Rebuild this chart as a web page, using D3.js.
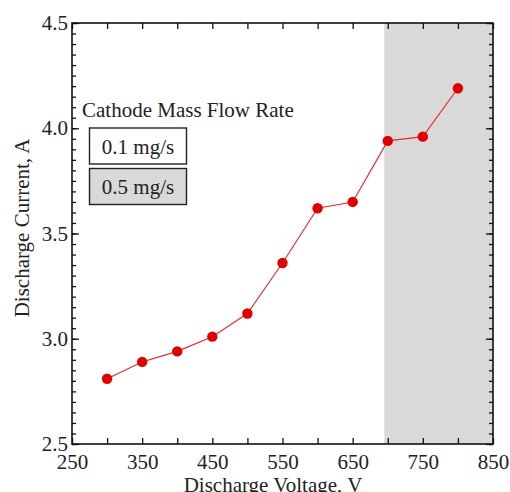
<!DOCTYPE html>
<html>
<head>
<meta charset="utf-8">
<script src="https://cdn.jsdelivr.net/npm/d3@7"></script>
<style>
  body { margin: 0; background: #fff; }
  svg text { font-family: "Liberation Serif", "DejaVu Serif", serif; fill: #222; }
</style>
</head>
<body>
<div class="chart"></div>
<script>
// discharge current vs voltage
const voltage = [300, 350, 400, 450, 500, 550, 600, 650, 700, 750, 800]
const current = [2.81, 2.89, 2.94, 3.01, 3.12, 3.36, 3.62, 3.65, 3.94, 3.96, 4.19]
const xLabelTicks = [250, 350, 450, 550, 650, 750, 850]
const yLabelTicks = [2.5, 3.0, 3.5, 4.0, 4.5]
const shadeRange = [695, 850]
const legendTitle = 'Cathode Mass Flow Rate'
const legendLabels = ['0.1 mg/s', '0.5 mg/s']

const W = 510, H = 492
const pLeft = 72, pRight = 493, pTop = 23, pBottom = 444

let svg = d3.select('.chart')
    .append('svg')
    .attr('width', W)
    .attr('height', H)

let x = d3.scaleLinear().domain([250, 850]).range([pLeft, pRight])
let y = d3.scaleLinear().domain([2.5, 4.5]).range([pBottom, pTop])

// shaded region (0.5 mg/s)
svg.append('rect')
    .attr('x', x(shadeRange[0]))
    .attr('y', pTop)
    .attr('width', x(shadeRange[1]) - x(shadeRange[0]))
    .attr('height', pBottom - pTop)
    .attr('fill', '#d9d9d9')

const fmtX = d => xLabelTicks.includes(d) ? d : ''
const allX = d3.range(250, 851, 50)
const minorY = d3.range(2.5, 4.501, 0.05)

function styleAxis(g) {
    g.select('.domain').remove()
    g.selectAll('line').attr('stroke', '#111').attr('stroke-width', 1.3)
    g.selectAll('text').attr('font-size', 21).attr('fill', '#222')
        .style('font-family', '"Liberation Serif", serif')
}

// bottom
svg.append('g').attr('transform', `translate(0,${pBottom})`)
    .call(d3.axisBottom(x).tickValues(allX).tickSize(-6).tickPadding(10).tickFormat(fmtX))
    .call(styleAxis)
// top
svg.append('g').attr('transform', `translate(0,${pTop})`)
    .call(d3.axisTop(x).tickValues(allX).tickSize(-6).tickFormat(''))
    .call(styleAxis)
// left minor + major
svg.append('g').attr('transform', `translate(${pLeft},0)`)
    .call(d3.axisLeft(y).tickValues(minorY).tickSize(-4).tickFormat(''))
    .call(styleAxis)
svg.append('g').attr('transform', `translate(${pLeft},0)`)
    .call(d3.axisLeft(y).tickValues(yLabelTicks).tickSize(-7).tickPadding(4).tickFormat(d3.format('.1f')))
    .call(styleAxis)
// right minor + major
svg.append('g').attr('transform', `translate(${pRight},0)`)
    .call(d3.axisRight(y).tickValues(minorY).tickSize(-4).tickFormat(''))
    .call(styleAxis)
svg.append('g').attr('transform', `translate(${pRight},0)`)
    .call(d3.axisRight(y).tickValues(yLabelTicks).tickSize(-7).tickFormat(''))
    .call(styleAxis)

// frame
svg.append('rect')
    .attr('x', pLeft)
    .attr('y', pTop)
    .attr('width', pRight - pLeft)
    .attr('height', pBottom - pTop)
    .attr('fill', 'none')
    .attr('stroke', '#111')
    .attr('stroke-width', 1.6)

// data line + markers
let pts = voltage.map((v, i) => [v, current[i]])
svg.append('path')
    .datum(pts)
    .attr('d', d3.line().x(d => x(d[0])).y(d => y(d[1])))
    .attr('fill', 'none')
    .attr('stroke', '#e8282c')
    .attr('stroke-width', 1.1)

svg.selectAll('circle.pt')
    .data(pts)
    .enter()
    .append('circle')
    .attr('class', 'pt')
    .attr('cx', d => x(d[0]))
    .attr('cy', d => y(d[1]))
    .attr('r', 5.2)
    .attr('fill', '#e00000')

// legend
svg.append('text')
    .attr('x', 82)
    .attr('y', 117)
    .attr('font-size', 21)
    .text(legendTitle)

legendLabels.forEach((lab, i) => {
    let by = 128 + i * 40.5
    svg.append('rect')
        .attr('x', 89.5)
        .attr('y', by)
        .attr('width', 97)
        .attr('height', 36)
        .attr('fill', i === 0 ? '#fff' : '#d9d9d9')
        .attr('stroke', '#222')
        .attr('stroke-width', 1.4)
    svg.append('text')
        .attr('x', 138)
        .attr('y', by + 25.5)
        .attr('text-anchor', 'middle')
        .attr('font-size', 21)
        .text(lab)
})

// axis titles
svg.append('text')
    .attr('x', 273)
    .attr('y', 492)
    .attr('text-anchor', 'middle')
    .attr('font-size', 21)
    .text('Discharge Voltage, V')

svg.append('text')
    .attr('transform', `translate(29,228) rotate(-90)`)
    .attr('text-anchor', 'middle')
    .attr('font-size', 21)
    .text('Discharge Current, A')
</script>
</body>
</html>
